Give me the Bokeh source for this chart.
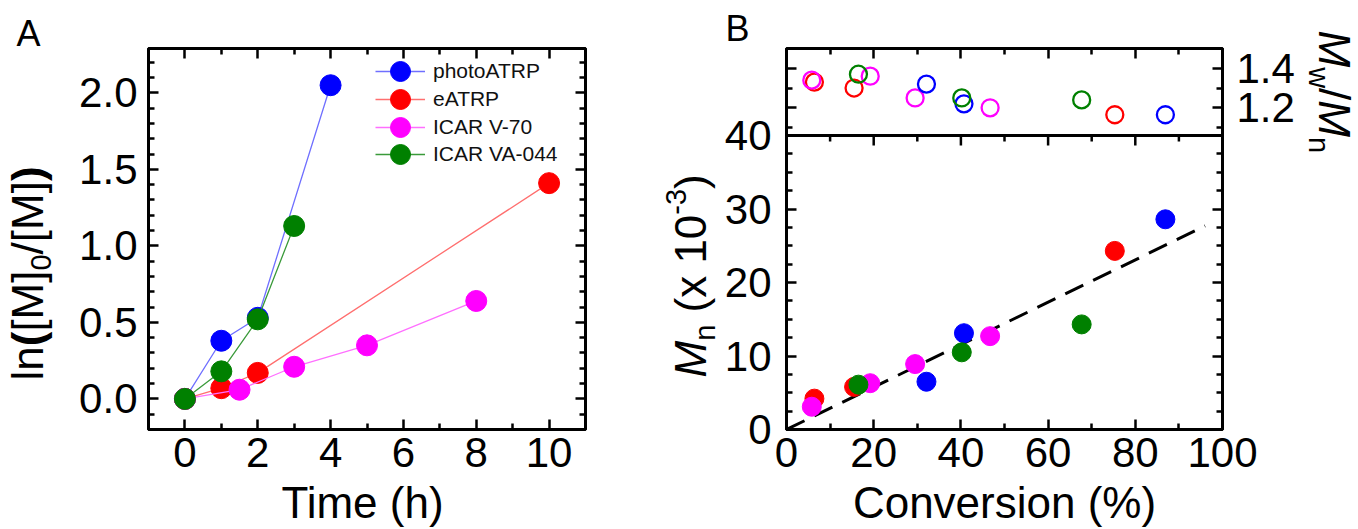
import math
from bokeh.plotting import figure
from bokeh.models import (Range1d, LinearAxis, FixedTicker, Label, Legend, LegendItem,
                          Span, CustomJSTickFormatter, GridBox)
from bokeh.layouts import row
from bokeh.embed import file_html
from bokeh.resources import INLINE

FONT = "Liberation Sans"
TICK_FS = "42px"
LABEL_PX = 44
SUB_PX = 29

# ---------------- data: panel A (kinetics) ----------------
series_names = ["photoATRP", "eATRP", "ICAR V-70", "ICAR VA-044"]
marker_colors = ["#0000ff", "#ff0000", "#ff00ff", "#008000"]
line_colors = ["#6f6fff", "#ff6f6f", "#ff6fff", "#3a9a3a"]

time_photo = [0, 1, 2, 4]
lnm_photo = [0.0, 0.38, 0.53, 2.05]
time_e = [0, 1, 2, 10]
lnm_e = [0.0, 0.07, 0.17, 1.41]
time_v70 = [0, 1.5, 3, 5, 8]
lnm_v70 = [0.0, 0.06, 0.21, 0.35, 0.64]
time_va044 = [0, 1, 2, 3]
lnm_va044 = [0.0, 0.18, 0.52, 1.13]

time_ticks = [0, 2, 4, 6, 8, 10]
time_minor = [1, 3, 5, 7, 9]
lnm_ticks = [0.0, 0.5, 1.0, 1.5, 2.0]

# ---------------- data: panel B (Mn and dispersity) ----------------
conv_photo = [32.1, 40.7, 86.9]
mn_photo = [6.5, 13.1, 28.6]
disp_photo = [1.32, 1.22, 1.165]
conv_e = [6.4, 15.5, 75.3]
mn_e = [4.2, 5.8, 24.3]
disp_e = [1.33, 1.30, 1.165]
conv_v70 = [5.8, 19.2, 29.5, 46.7]
mn_v70 = [3.1, 6.3, 8.9, 12.7]
disp_v70 = [1.34, 1.36, 1.25, 1.20]
conv_va044 = [16.5, 40.2, 67.7]
mn_va044 = [6.1, 10.5, 14.3]
disp_va044 = [1.37, 1.25, 1.24]
theory_conv = [0, 96]
theory_mn = [0, 27.7]

conv_ticks = [0, 20, 40, 60, 80, 100]
conv_minor = [10, 30, 50, 70, 90]
mn_ticks = [0, 10, 20, 30, 40]
mn_minor = [2.5, 5, 7.5, 12.5, 15, 17.5, 22.5, 25, 27.5, 32.5, 35, 37.5]
disp_ticks = [1.2, 1.4]
disp_minor = [1.1, 1.3]

# ---------------- layout (page pixels) ----------------
PAGE_W, H = 1358, 528
A_FL, A_FR = 148, 585
B_FL, B_FR = 786, 1222
FT, FB = 48, 429
A_W = 645
B_W = PAGE_W - A_W
B_UP = 87  # height of the dispersity strip
FH = FB - FT

AX = (-1.0, 11.0)
AY = (-0.2, 2.29)
BX = (0.0, 100.0)
MN_TOP = 40.0 * FH / (FH - B_UP)
BY = (0.0, MN_TOP)
D_DIV = 1.06
D_TOP = 1.5
D_BOT = D_TOP - (D_TOP - D_DIV) * FH / B_UP
DY = (D_BOT, D_TOP)


def d_to_mn(v):
    return BY[0] + (v - DY[0]) / (DY[1] - DY[0]) * (BY[1] - BY[0])


def mn_to_d(v):
    return DY[0] + (v - BY[0]) / (BY[1] - BY[0]) * (DY[1] - DY[0])


def style_axis(ax, ticks, minor, labels=True, standoff=10, fmt=None):
    ax.ticker = FixedTicker(ticks=sorted(ticks), minor_ticks=sorted(minor))
    ax.axis_line_width = 3
    ax.axis_line_color = "black"
    ax.major_tick_in = 10
    ax.major_tick_out = 0
    ax.minor_tick_in = 6
    ax.minor_tick_out = 0
    ax.major_tick_line_width = 2.5
    ax.minor_tick_line_width = 2.5
    ax.major_tick_line_color = "black"
    ax.minor_tick_line_color = "black"
    ax.major_label_text_font = FONT
    ax.major_label_text_color = "black"
    if labels:
        ax.major_label_text_font_size = TICK_FS
        ax.major_label_standoff = standoff
        if fmt is not None:
            ax.formatter = CustomJSTickFormatter(code=fmt)
    else:
        ax.major_label_text_font_size = "0px"
        ax.major_label_standoff = 0
        ax.formatter = CustomJSTickFormatter(code="return ''")


# ---------------- panel A ----------------
pa = figure(width=A_W, height=H, x_range=Range1d(*AX), y_range=Range1d(*AY),
            min_border_left=A_FL, min_border_right=A_W - A_FR, min_border_top=FT,
            min_border_bottom=H - FB, output_backend="svg", toolbar_location=None,
            x_axis_location=None, y_axis_location=None)
pa.grid.visible = False
pa.outline_line_color = "black"
pa.outline_line_width = 3

ax = LinearAxis(); style_axis(ax, time_ticks, time_minor, standoff=8)
pa.add_layout(ax, "below")
ax = LinearAxis(); style_axis(ax, time_ticks, time_minor, labels=False)
pa.add_layout(ax, "above")
lnm_minor = [round(-0.1 + 0.1 * i, 1) for i in range(24)]
lnm_minor = [v for v in lnm_minor if all(abs(v - t) > 1e-6 for t in lnm_ticks)]
ax = LinearAxis(); style_axis(ax, lnm_ticks, lnm_minor, standoff=11,
                              fmt="return tick.toFixed(1)")
pa.add_layout(ax, "left")
ax = LinearAxis(); style_axis(ax, lnm_ticks, lnm_minor, labels=False)
pa.add_layout(ax, "right")

a_data = [(time_photo, lnm_photo), (time_e, lnm_e), (time_v70, lnm_v70),
          (time_va044, lnm_va044)]
LEG_X = 375
LEG_Y0, LEG_STEP, LEG_H = 70.7, 27.9, 52
for i, (name, (tx, ty), mc, lc) in enumerate(zip(series_names, a_data, marker_colors, line_colors)):
    lr = pa.line(tx, ty, line_color=lc, line_width=1.3)
    sr = pa.scatter(tx, ty, marker="circle", size=21, fill_color=mc, line_color=mc)
    cy = LEG_Y0 + i * LEG_STEP
    leg = Legend(items=[LegendItem(label=name, renderers=[lr, sr])],
                 location=(LEG_X - A_FL, FB - cy - LEG_H / 2),
                 glyph_width=50, glyph_height=LEG_H, label_standoff=8,
                 padding=0, margin=0, spacing=0, border_line_color=None,
                 background_fill_alpha=0, label_text_font=FONT,
                 label_text_font_size="21px", label_text_color="#111111")
    pa.add_layout(leg)

# ---------------- panel B ----------------
pb = figure(width=B_W, height=H, x_range=Range1d(*BX), y_range=Range1d(*BY),
            min_border_left=B_FL - A_W, min_border_right=PAGE_W - B_FR,
            min_border_top=FT, min_border_bottom=H - FB, output_backend="svg",
            toolbar_location=None, x_axis_location=None, y_axis_location=None)
pb.extra_y_ranges = {"disp": Range1d(*DY)}
pb.grid.visible = False
pb.outline_line_color = "black"
pb.outline_line_width = 3

ax = LinearAxis(); style_axis(ax, conv_ticks, conv_minor, standoff=8)
pb.add_layout(ax, "below")
ax = LinearAxis(); style_axis(ax, conv_ticks, conv_minor, labels=False)
pb.add_layout(ax, "above")

left_major = mn_ticks + [d_to_mn(v) for v in disp_ticks]
left_minor = mn_minor + [d_to_mn(v) for v in disp_minor]
ax = LinearAxis(); style_axis(ax, left_major, left_minor, standoff=15,
                              fmt="return tick <= 40.5 ? String(Math.round(tick)) : ''")
pb.add_layout(ax, "left")

right_major = disp_ticks + [mn_to_d(v) for v in mn_ticks[1:4]]
right_minor = disp_minor + [mn_to_d(v) for v in mn_minor]
ax = LinearAxis(y_range_name="disp")
style_axis(ax, right_major, right_minor, standoff=14,
           fmt="return tick > 1.1 ? tick.toFixed(1) : ''")
pb.add_layout(ax, "right")

pb.add_layout(Span(location=40, dimension="width", line_color="black", line_width=3))
unit_per_px = (BY[1] - BY[0]) / FH
pb.segment(x0=conv_ticks[1:-1], y0=[40] * 4, x1=conv_ticks[1:-1],
           y1=[40 - 10 * unit_per_px] * 4, line_color="black", line_width=2.5)
pb.segment(x0=conv_minor, y0=[40] * 5, x1=conv_minor,
           y1=[40 - 6 * unit_per_px] * 5, line_color="black", line_width=2.5)

pb.line(theory_conv, theory_mn, line_color="black", line_width=3, line_dash="20 11")

b_data = {
    "eATRP": (conv_e, mn_e, disp_e, "#ff0000"),
    "ICAR V-70": (conv_v70, mn_v70, disp_v70, "#ff00ff"),
    "photoATRP": (conv_photo, mn_photo, disp_photo, "#0000ff"),
    "ICAR VA-044": (conv_va044, mn_va044, disp_va044, "#008000"),
}
for name, (cx, mn, dp, col) in b_data.items():
    pb.scatter(cx, mn, marker="circle", size=19, fill_color=col, line_color=col)
    pb.scatter(cx, dp, marker="circle", size=17, fill_color=None, line_color=col,
               line_width=2.3, y_range_name="disp")

# ---------------- text overlay (page pixel coordinates, y downwards) ----------------
tf = figure(width=PAGE_W, height=H, x_range=Range1d(0, PAGE_W), y_range=Range1d(H, 0),
            min_border=0, output_backend="svg", toolbar_location=None,
            x_axis_location=None, y_axis_location=None)
tf.grid.visible = False
tf.outline_line_color = None
tf.background_fill_color = None
tf.border_fill_color = None

BASE_K = 0.37  # offset of the renderer's "alphabetic" anchor, in em
UP, DOWN = math.pi / 2, -math.pi / 2


def txt(px, py, text, size=LABEL_PX, angle=0.0, style="normal", align="left"):
    d = BASE_K * size
    if angle == UP:
        px -= d
    elif angle == DOWN:
        px += d
    else:
        py -= d
    tf.add_layout(Label(x=px, y=py, text=text, angle=angle, text_font=FONT,
                        text_font_size=f"{size}px", text_font_style=style,
                        text_align=align, text_baseline="alphabetic",
                        text_color="black"))


txt(16, 46, "A", size=36)
txt(725, 41, "B", size=36)
txt(362, 518, "Time (h)", align="center")
txt(1004, 518, "Conversion (%)", align="center")
# ln([M]0/[M])
yb = 43
txt(yb, 380, "ln", angle=UP)
txt(yb, 345.8, "(", angle=UP, style="bold")
txt(yb, 331.1, "[M]", angle=UP)
txt(yb + 8, 270, "0", size=SUB_PX, angle=UP)
txt(yb, 253.9, "/[M]", angle=UP)
txt(yb, 180.6, ")", angle=UP, style="bold")
# Mn (x 10^-3)
lb = 706
txt(lb, 377, "M", angle=UP, style="italic")
txt(lb + 9, 340.3, "n", size=SUB_PX, angle=UP)
txt(lb, 312, "(x 10", angle=UP)
txt(lb - 20, 214.2, "-3", size=SUB_PX, angle=UP)
txt(lb, 188.4, ")", angle=UP)
# Mw/Mn (reads top to bottom)
rb = 1318
txt(rb, 30, "M", angle=DOWN, style="italic")
txt(rb - 10, 66.7, "w", size=SUB_PX, angle=DOWN)
txt(rb, 87.6, "/", angle=DOWN)
txt(rb, 99.8, "M", angle=DOWN, style="italic")
txt(rb - 10, 136.5, "n", size=SUB_PX, angle=DOWN)

plots = row(pa, pb, spacing=0)
layout = GridBox(children=[(plots, 0, 0), (tf, 0, 0)])
open("out.html", "w").write(file_html(layout, INLINE))
